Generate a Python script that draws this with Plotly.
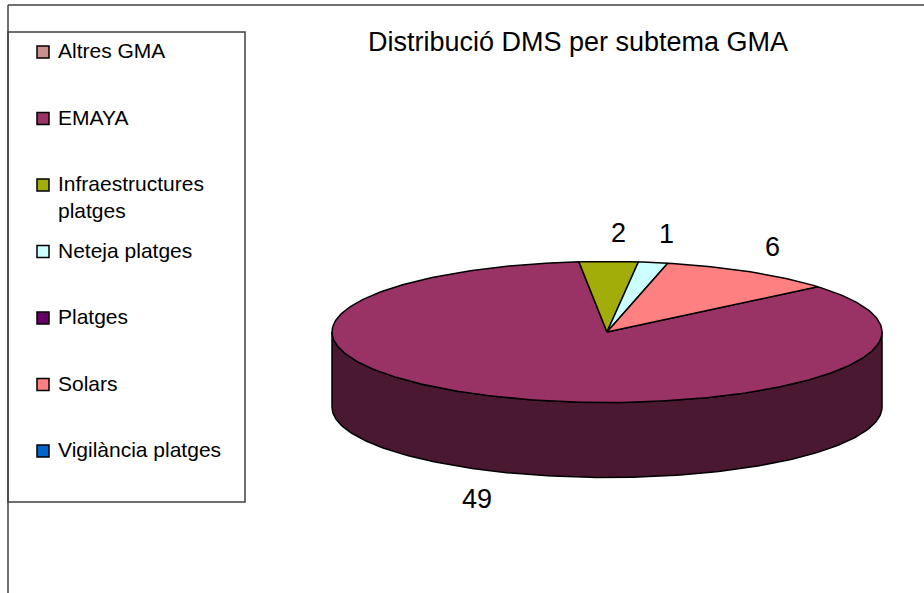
import numpy as np
import plotly.graph_objects as go

# data
categories = ["Altres GMA", "EMAYA", "Infraestructures platges", "Neteja platges",
              "Platges", "Solars", "Vigilància platges"]
legend_text = ["Altres GMA", "EMAYA", "Infraestructures<br>platges", "Neteja platges",
               "Platges", "Solars", "Vigilància platges"]
values = [0, 49, 2, 1, 0, 6, 0]
colors = ["#CC8F8F", "#993366", "#A3AD0A", "#CCFFFF", "#660066", "#FF8080", "#0066CC"]
title_text = "Distribució DMS per subtema GMA"

# page / pie geometry (pixels)
W, H = 924, 593
cx, cy = 607, 332
rx, ry = 275, 70.5
depth = 75
first_angle = 50  # degrees, clockwise from 12 o'clock
font_family = "Liberation Sans, Arial, sans-serif"


def darker(hex_color, f=0.49):
    h = hex_color.lstrip("#")
    r, g, b = (int(h[i:i + 2], 16) for i in (0, 2, 4))
    return "rgb(%d,%d,%d)" % (r * f, g * f, b * f)


def rim(a0, a1, dy=0.0):
    th = np.radians(np.linspace(a0, a1, max(int(abs(a1 - a0)) + 2, 3)))
    return cx + rx * np.sin(th), cy - ry * np.cos(th) + dy


fig = go.Figure()

total = float(sum(values))
angles = []
a = first_angle
for v in values:
    span = v / total * 360
    angles.append((a, a + span))
    a += span

# front walls (only the part facing the viewer: 90..270 deg)
for (a0, a1), v, c in zip(angles, values, colors):
    if v == 0:
        continue
    for k in (-1, 0, 1):
        lo, hi = max(a0, 90 + 360 * k), min(a1, 270 + 360 * k)
        if hi <= lo:
            continue
        xt, yt = rim(lo, hi)
        xb, yb = rim(hi, lo, depth)
        fig.add_trace(go.Scatter(
            x=np.r_[xt, xb, xt[:1]], y=np.r_[yt, yb, yt[:1]],
            mode="lines", fill="toself", fillcolor=darker(c),
            line=dict(color="black", width=1.5), hoverinfo="skip", showlegend=False))

# top faces
for (a0, a1), v, c in zip(angles, values, colors):
    if v == 0:
        continue
    xs, ys = rim(a0, a1)
    fig.add_trace(go.Scatter(
        x=np.r_[cx, xs, cx], y=np.r_[cy, ys, cy],
        mode="lines", fill="toself", fillcolor=c,
        line=dict(color="black", width=1.5), hoverinfo="skip", showlegend=False))

# value labels
annotations = []
for (a0, a1), v in zip(angles, values):
    if v == 0:
        continue
    m = np.radians((a0 + a1) / 2)
    s, co = np.sin(m), np.cos(m)
    lx = cx + (rx + 25) * s
    ly = cy - (ry + 29) * co + (depth if co < 0 else 0)
    annotations.append(dict(
        x=lx, y=ly, xref="x", yref="y", text=str(v), showarrow=False,
        xanchor="left" if s >= 0 else "right", yanchor="middle",
        font=dict(family=font_family, size=27, color="black")))

# legend drawn by hand (Excel-style, widely spaced)
leg_x, leg_top, leg_step = 43, 52, 66.5
for i, (lab, c) in enumerate(zip(legend_text, colors)):
    yy = leg_top + i * leg_step
    fig.add_trace(go.Scatter(
        x=[leg_x], y=[yy], mode="markers",
        marker=dict(symbol="square", size=12, color=c, line=dict(color="black", width=1.5)),
        hoverinfo="skip", showlegend=False))
    annotations.append(dict(
        x=leg_x + 13, y=yy - 15, xref="x", yref="y", text=lab, showarrow=False,
        xanchor="left", yanchor="top", align="left",
        font=dict(family=font_family, size=21, color="black")))

annotations.append(dict(
    x=578, y=42, xref="x", yref="y", text=title_text, showarrow=False,
    xanchor="center", yanchor="middle",
    font=dict(family=font_family, size=27, color="black")))

shapes = [
    dict(type="rect", xref="x", yref="y", x0=8, x1=245, y0=32, y1=502,
         line=dict(color="#404040", width=1.5)),
    dict(type="line", xref="x", yref="y", x0=8, x1=W + 5, y0=5, y1=5,
         line=dict(color="#404040", width=1.5)),
    dict(type="line", xref="x", yref="y", x0=8, x1=8, y0=5, y1=H + 5,
         line=dict(color="#404040", width=1.5)),
]

fig.update_layout(
    width=W, height=H,
    margin=dict(l=0, r=0, t=0, b=0),
    paper_bgcolor="white", plot_bgcolor="white",
    xaxis=dict(range=[0, W], visible=False, fixedrange=True),
    yaxis=dict(range=[H, 0], visible=False, fixedrange=True),
    annotations=annotations, shapes=shapes,
    showlegend=False,
)

fig.write_html("out.html", config={"displayModeBar": False},
               post_script="document.body.style.margin='0';")
